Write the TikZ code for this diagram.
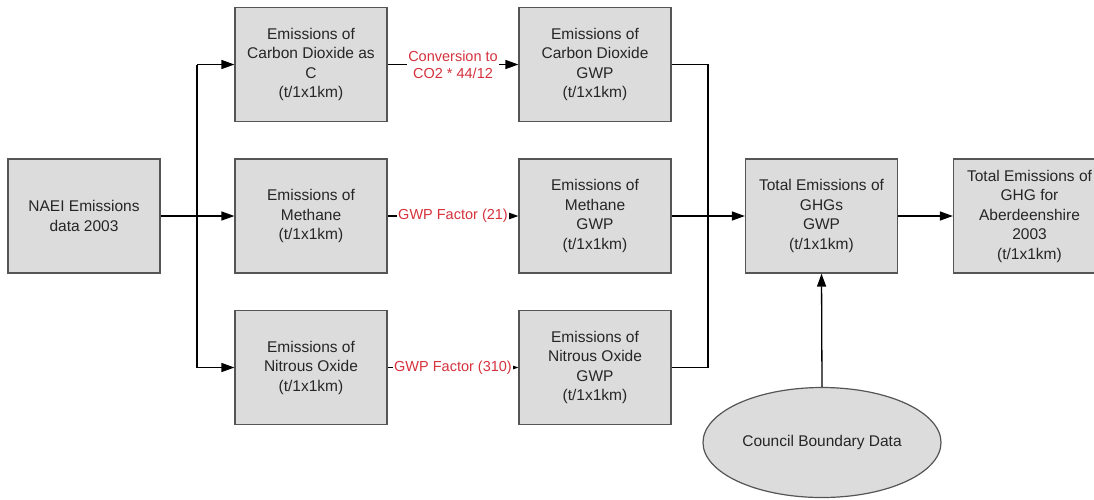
\documentclass[tikz,border=0pt]{standalone}
\usepackage{fontspec}
\setmainfont{Liberation Sans}
\usetikzlibrary{arrows.meta,shapes.geometric}
\definecolor{boxfill}{RGB}{220,220,220}
\definecolor{boxline}{RGB}{85,85,85}
\definecolor{txt}{RGB}{38,38,38}
\definecolor{labred}{RGB}{214,50,60}
\tikzset{
  procbox/.style={draw=boxline, line width=1.2pt, fill=boxfill, minimum width=152pt, minimum height=114pt,
    inner sep=0pt, align=center, text=txt, font=\fontsize{15.5}{19.5}\selectfont},
  srcell/.style={ellipse, draw=boxline, line width=1.2pt, fill=boxfill, minimum width=238pt, minimum height=110pt,
    inner sep=0pt, align=center, text=txt, font=\fontsize{15.5}{19.5}\selectfont},
  conn/.style={draw=black, line width=1.3pt},
  arr/.style={conn, -{Triangle[length=13pt,width=9pt]}},
  lab/.style={fill=white, text=labred, inner sep=1.5pt, align=center, font=\fontsize{14.5}{17}\selectfont}
}
\begin{document}
\begin{tikzpicture}[x=1pt,y=-1pt]
\useasboundingbox (0,0) rectangle (1094,499);
\clip (0,0) rectangle (1094,499);
\fill[white] (0,0) rectangle (1094,499);
\node[procbox] (naei) at (84,216) {NAEI Emissions\\data 2003};
\node[procbox] (co2c) at (311,64.5) {Emissions of\\Carbon Dioxide as\\C\\(t/1x1km)};
\node[procbox] (ch4) at (311,216) {Emissions of\\Methane\\(t/1x1km)};
\node[procbox] (n2o) at (311,367.5) {Emissions of\\Nitrous Oxide\\(t/1x1km)};
\node[procbox] (co2g) at (595,64.5) {Emissions of\\Carbon Dioxide\\GWP\\(t/1x1km)};
\node[procbox] (ch4g) at (595,216) {Emissions of\\Methane\\GWP\\(t/1x1km)};
\node[procbox] (n2og) at (595,367.5) {Emissions of\\Nitrous Oxide\\GWP\\(t/1x1km)};
\node[procbox] (tot) at (821.5,216) {Total Emissions of\\GHGs\\GWP\\(t/1x1km)};
\node[procbox] (fin) at (1029.5,216) {Total Emissions of\\GHG for\\Aberdeenshire\\2003\\(t/1x1km)};
\node[srcell] (council) at (822,442.5) {Council Boundary Data};
\coordinate (bx) at (197,216);
\coordinate (mx) at (708,216);
% branch from NAEI
\draw[arr] (naei.east) -- (ch4.west);
\draw[conn] (bx |- co2c.west) -- (bx |- n2o.west);
\draw[arr] (bx |- co2c.west) -- (co2c.west);
\draw[arr] (bx |- n2o.west) -- (n2o.west);
% conversions
\draw[arr] (co2c.east) -- node[lab] {Conversion to\\CO2 * 44/12} (co2g.west);
\draw[arr] (ch4.east) -- node[lab] {GWP Factor (21)} (ch4g.west);
\draw[arr] (n2o.east) -- node[lab] {GWP Factor (310)} (n2og.west);
% merge
\draw[conn] (co2g.east) -| (mx);
\draw[conn] (n2og.east) -| (mx);
\draw[arr] (ch4g.east) -- (tot.west);
\draw[arr] (tot.east) -- (fin.west);
\draw[arr] (council.north) -- (tot.south);
\end{tikzpicture}
\end{document}
